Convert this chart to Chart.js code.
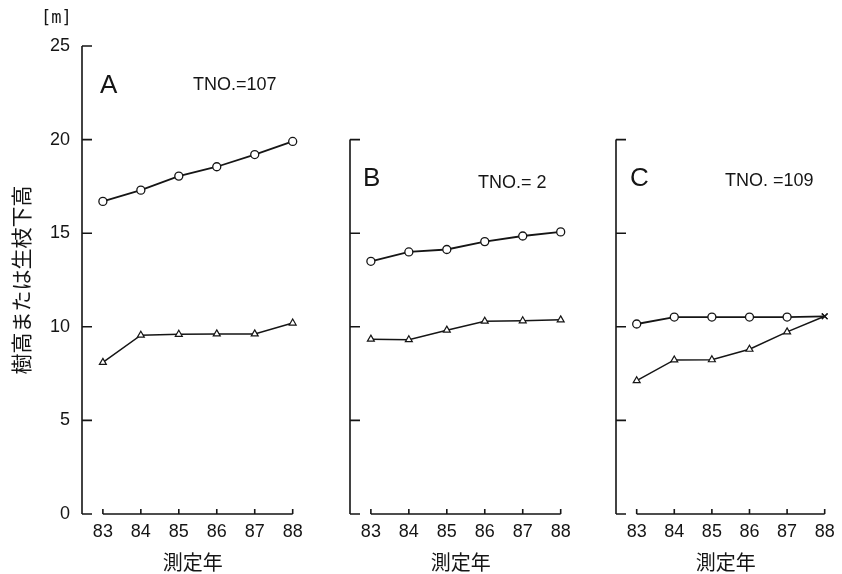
<!DOCTYPE html>
<html>
<head>
<meta charset="utf-8">
<script src="https://cdn.jsdelivr.net/npm/chart.js@4"></script>
<style>
  html, body { margin: 0; padding: 0; background: #fff; }
  #wrap { position: relative; width: 842px; height: 574px; overflow: hidden; }
  canvas { position: absolute; top: 0; }
</style>
</head>
<body>
<div id="wrap">
  <canvas id="chartA" width="310" height="574" style="left:0px"></canvas>
  <canvas id="chartB" width="310" height="574" style="left:268px"></canvas>
  <canvas id="chartC" width="308" height="574" style="left:534px"></canvas>
</div>
<script>
// measurement years (19xx) and y tick values
const years = [83, 84, 85, 86, 87, 88];
const yTicks = [0, 5, 10, 15, 20, 25];

// tree height (circles) and height to live crown base (triangles), metres
const heightA = [16.7, 17.3, 18.05, 18.55, 19.2, 19.9];
const crownA = [8.1, 9.55, 9.6, 9.62, 9.62, 10.2];
const heightB = [13.5, 14.0, 14.13, 14.55, 14.85, 15.07];
const crownB = [9.34, 9.31, 9.82, 10.3, 10.32, 10.37];
const heightC = [10.15, 10.52, 10.52, 10.52, 10.52, 10.56];
const crownC = [7.12, 8.23, 8.24, 8.8, 9.73, 10.56];

const ink = '#151515';
const latin = '"Liberation Sans", Arial, sans-serif';
const cjk = '"Noto Sans CJK JP", sans-serif';

const axesPlugin = {
  id: 'axes',
  afterDraw(chart, args, opts) {
    const { ctx, chartArea, scales: { x, y } } = chart;
    const left = chartArea.left;
    const y0 = y.getPixelForValue(0);
    ctx.save();
    ctx.strokeStyle = ink;
    ctx.lineWidth = 1.6;
    ctx.beginPath();
    // y axis with inward ticks
    ctx.moveTo(left, y0);
    ctx.lineTo(left, y.getPixelForValue(opts.top));
    yTicks.filter(v => v <= opts.top).forEach(v => {
      const py = y.getPixelForValue(v);
      ctx.moveTo(left, py);
      ctx.lineTo(left + 10, py);
    });
    // detached x axis from first to last year, ticks upward
    const xa = x.getPixelForValue(years[0]);
    const xb = x.getPixelForValue(years[years.length - 1]);
    ctx.moveTo(xa, y0);
    ctx.lineTo(xb, y0);
    years.forEach(v => {
      const px = x.getPixelForValue(v);
      ctx.moveTo(px, y0);
      ctx.lineTo(px, y0 - 5);
    });
    ctx.stroke();

    ctx.fillStyle = ink;
    ctx.textBaseline = 'middle';
    ctx.textAlign = 'left';
    ctx.font = '26px ' + latin;
    ctx.fillText(opts.letter, left + opts.letterDx, opts.letterY);
    ctx.font = '18px ' + latin;
    ctx.fillText(opts.tno, left + opts.tnoDx, opts.tnoY);
    if (opts.unit) {
      ctx.font = '17px "DejaVu Sans Mono", monospace';
      ctx.fillText('[m]', left - 41, 19);
    }
    ctx.restore();
  }
};

function makeChart(id, height, crown, panel) {
  const last = years.length - 1;
  new Chart(document.getElementById(id), {
    type: 'line',
    data: {
      datasets: [{
        data: years.map((v, i) => ({ x: v, y: height[i] })),
        borderColor: ink,
        borderWidth: 1.8,
        pointStyle: years.map((v, i) => (panel.cross && i === last) ? 'crossRot' : 'circle'),
        pointRadius: 4,
        pointBackgroundColor: '#fff',
        pointBorderColor: ink,
        pointBorderWidth: 1.3,
        clip: false,
      }, {
        data: years.map((v, i) => ({ x: v, y: crown[i] })),
        borderColor: ink,
        borderWidth: 1.5,
        pointStyle: years.map((v, i) => (panel.cross && i === last) ? 'crossRot' : 'triangle'),
        pointRadius: 4,
        pointBackgroundColor: '#fff',
        pointBorderColor: ink,
        pointBorderWidth: 1.2,
        clip: false,
      }],
    },
    options: {
      responsive: false,
      animation: false,
      events: [],
      layout: { padding: { top: 46, right: 6, left: 0, bottom: 0 } },
      plugins: {
        legend: { display: false },
        tooltip: { enabled: false },
        axes: panel,
      },
      scales: {
        x: {
          type: 'linear',
          min: 82.45,
          max: 88.29,
          afterBuildTicks: s => { s.ticks = years.map(v => ({ value: v })); },
          afterFit: s => { s.height = 60; },
          grid: { display: false, drawTicks: false },
          border: { display: false },
          ticks: { padding: 7, autoSkip: false, maxRotation: 0, color: ink, font: { size: 18, family: latin } },
          title: { display: true, text: '測定年', color: ink, font: { size: 20, family: cjk }, padding: { top: 4, bottom: 0 } },
        },
        y: {
          min: 0,
          max: 25,
          afterBuildTicks: s => { s.ticks = yTicks.map(v => ({ value: v })); },
          afterFit: s => { s.width = 82; },
          grid: { display: false, drawTicks: false },
          border: { display: false },
          ticks: { display: panel.showY, padding: 12, color: ink, font: { size: 18, family: latin } },
          title: { display: panel.showY, text: '樹高または生枝下高', color: ink, font: { size: 21, family: cjk }, padding: { top: 8, bottom: 0 } },
        },
      },
    },
    plugins: [axesPlugin],
  });
}

makeChart('chartA', heightA, crownA, { top: 25, showY: true, unit: true, cross: false,
  letter: 'A', letterDx: 18, letterY: 86, tno: 'TNO.=107', tnoDx: 111, tnoY: 85 });
makeChart('chartB', heightB, crownB, { top: 20, showY: false, unit: false, cross: false,
  letter: 'B', letterDx: 13, letterY: 179, tno: 'TNO.= 2', tnoDx: 128, tnoY: 183 });
makeChart('chartC', heightC, crownC, { top: 20, showY: false, unit: false, cross: true,
  letter: 'C', letterDx: 14, letterY: 179, tno: 'TNO. =109', tnoDx: 109, tnoY: 181 });
</script>
</body>
</html>
